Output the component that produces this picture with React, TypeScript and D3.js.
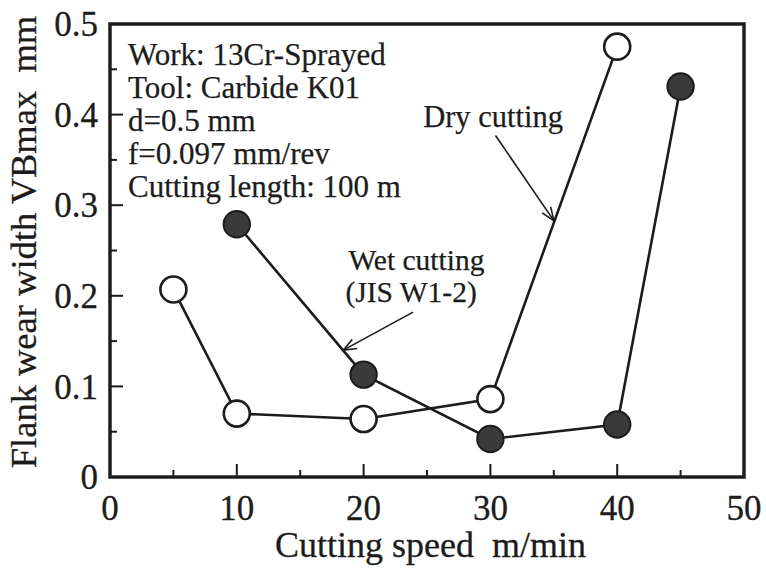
import React from "react";
import * as d3 from "d3";

// Cutting speed (m/min) and flank wear VBmax (mm)
const drySpeed = [5, 10, 20, 30, 40];
const dryWear = [0.207, 0.07, 0.064, 0.086, 0.475];
const wetSpeed = [10, 20, 30, 40, 45];
const wetWear = [0.279, 0.113, 0.042, 0.058, 0.431];

const xTicks = [0, 10, 20, 30, 40, 50];
const yTicks = [0, 0.1, 0.2, 0.3, 0.4, 0.5];
const xMinor = [5, 15, 25, 35, 45];
const yMinor = [0.05, 0.15, 0.25, 0.35, 0.45];

const conditions = [
  "Work: 13Cr-Sprayed",
  "Tool: Carbide K01",
  "d=0.5 mm",
  "f=0.097 mm/rev",
  "Cutting length: 100 m",
];

// Callouts in data units: label lines, label anchor, arrow tail and head
const dryLabel = ["Dry cutting"];
const dryLabelAt = [24.7, 0.386];
const dryArrow = [[30.4, 0.377], [35.0, 0.283]];
const wetLabel = ["Wet cutting", "(JIS W1-2)"];
const wetLabelAt = [18.8, 0.229];
const wetArrow = [[23.9, 0.182], [18.4, 0.140]];

const W = 766;
const H = 576;
const M = { left: 110, right: 744, top: 24, bottom: 477 };
const FONT = "'Liberation Serif', 'Times New Roman', serif";
const INK = "#1c1c1c";

export default function App() {
  const x = d3.scaleLinear().domain([0, 50]).range([M.left, M.right]);
  const y = d3.scaleLinear().domain([0, 0.5]).range([M.bottom, M.top]);

  const line = d3
    .line<[number, number]>()
    .x((d) => x(d[0]))
    .y((d) => y(d[1]));

  const dry: [number, number][] = drySpeed.map((s, i) => [s, dryWear[i]]);
  const wet: [number, number][] = wetSpeed.map((s, i) => [s, wetWear[i]]);

  const arrow = (a: number[][], key: string) => {
    const [x1, y1] = [x(a[0][0]), y(a[0][1])];
    const [x2, y2] = [x(a[1][0]), y(a[1][1])];
    const ang = Math.atan2(y2 - y1, x2 - x1);
    const len = 14;
    const spread = 0.38;
    const h1 = [x2 - len * Math.cos(ang - spread), y2 - len * Math.sin(ang - spread)];
    const h2 = [x2 - len * Math.cos(ang + spread), y2 - len * Math.sin(ang + spread)];
    return (
      <g key={key} stroke={INK} strokeWidth={1.6} fill="none">
        <line x1={x1} y1={y1} x2={x2} y2={y2} />
        <polyline points={`${h1[0]},${h1[1]} ${x2},${y2} ${h2[0]},${h2[1]}`} />
      </g>
    );
  };

  return (
    <svg
      width={W}
      height={H}
      style={{ position: "absolute", left: 0, top: 0, background: "#fff", fontFamily: FONT }}
    >
      {/* ticks, drawn inward */}
      <g stroke={INK} strokeWidth={2}>
        {xTicks.slice(1, -1).map((t) => (
          <line key={"xt" + t} x1={x(t)} x2={x(t)} y1={M.bottom} y2={M.bottom - 13} />
        ))}
        {xMinor.map((t) => (
          <line key={"xm" + t} x1={x(t)} x2={x(t)} y1={M.bottom} y2={M.bottom - 7} />
        ))}
        {yTicks.slice(1, -1).map((t) => (
          <line key={"yt" + t} x1={M.left} x2={M.left + 13} y1={y(t)} y2={y(t)} />
        ))}
        {yMinor.map((t) => (
          <line key={"ym" + t} x1={M.left} x2={M.left + 7} y1={y(t)} y2={y(t)} />
        ))}
      </g>

      {/* frame */}
      <rect
        x={M.left}
        y={M.top}
        width={M.right - M.left}
        height={M.bottom - M.top}
        fill="none"
        stroke={INK}
        strokeWidth={3.5}
      />

      {/* tick labels */}
      <g fontSize={35} fill={INK} stroke={INK} strokeWidth={0.3}>
        {xTicks.map((t) => (
          <text key={"xl" + t} x={x(t)} y={520} textAnchor="middle">
            {t}
          </text>
        ))}
        {yTicks.map((t) => (
          <text key={"yl" + t} x={98} y={y(t)} dy="0.35em" textAnchor="end">
            {t === 0 ? "0" : t.toFixed(1)}
          </text>
        ))}
      </g>

      {/* axis titles */}
      <g fill={INK} stroke={INK} strokeWidth={0.3}>
        <text x={275} y={557} fontSize={36} xmlSpace="preserve">
          {"Cutting speed  m/min"}
        </text>
        <text
          transform="translate(36,242) rotate(-90)"
          textAnchor="middle"
          fontSize={36.5}
          xmlSpace="preserve"
        >
          {"Flank wear width VBmax  mm"}
        </text>
      </g>

      {/* cutting conditions */}
      <g fontSize={31} fill={INK} stroke={INK} strokeWidth={0.25}>
        {conditions.map((c, i) => (
          <text key={c} x={128} y={65 + i * 33}>
            {c}
          </text>
        ))}
      </g>

      {/* series lines */}
      <path d={line(dry) ?? ""} fill="none" stroke={INK} strokeWidth={2.6} />
      <path d={line(wet) ?? ""} fill="none" stroke={INK} strokeWidth={2.6} />

      {/* callouts */}
      <g fill={INK} stroke={INK} strokeWidth={0.25}>
        {dryLabel.map((l, i) => (
          <text key={l} fontSize={30.5} x={x(dryLabelAt[0])} y={y(dryLabelAt[1]) + i * 32}>
            {l}
          </text>
        ))}
        {wetLabel.map((l, i) => (
          <text
            key={l}
            fontSize={29.5}
            x={x(wetLabelAt[0]) - i * 3}
            y={y(wetLabelAt[1]) + i * 32}
          >
            {l}
          </text>
        ))}
      </g>
      {arrow(dryArrow, "da")}
      {arrow(wetArrow, "wa")}

      {/* markers */}
      {dry.map((d, i) => (
        <circle
          key={"d" + i}
          cx={x(d[0])}
          cy={y(d[1])}
          r={13}
          fill="#fff"
          stroke={INK}
          strokeWidth={2.6}
        />
      ))}
      {wet.map((d, i) => (
        <circle
          key={"w" + i}
          cx={x(d[0])}
          cy={y(d[1])}
          r={13.2}
          fill="#3a3a3a"
          stroke={INK}
          strokeWidth={2}
        />
      ))}
    </svg>
  );
}
